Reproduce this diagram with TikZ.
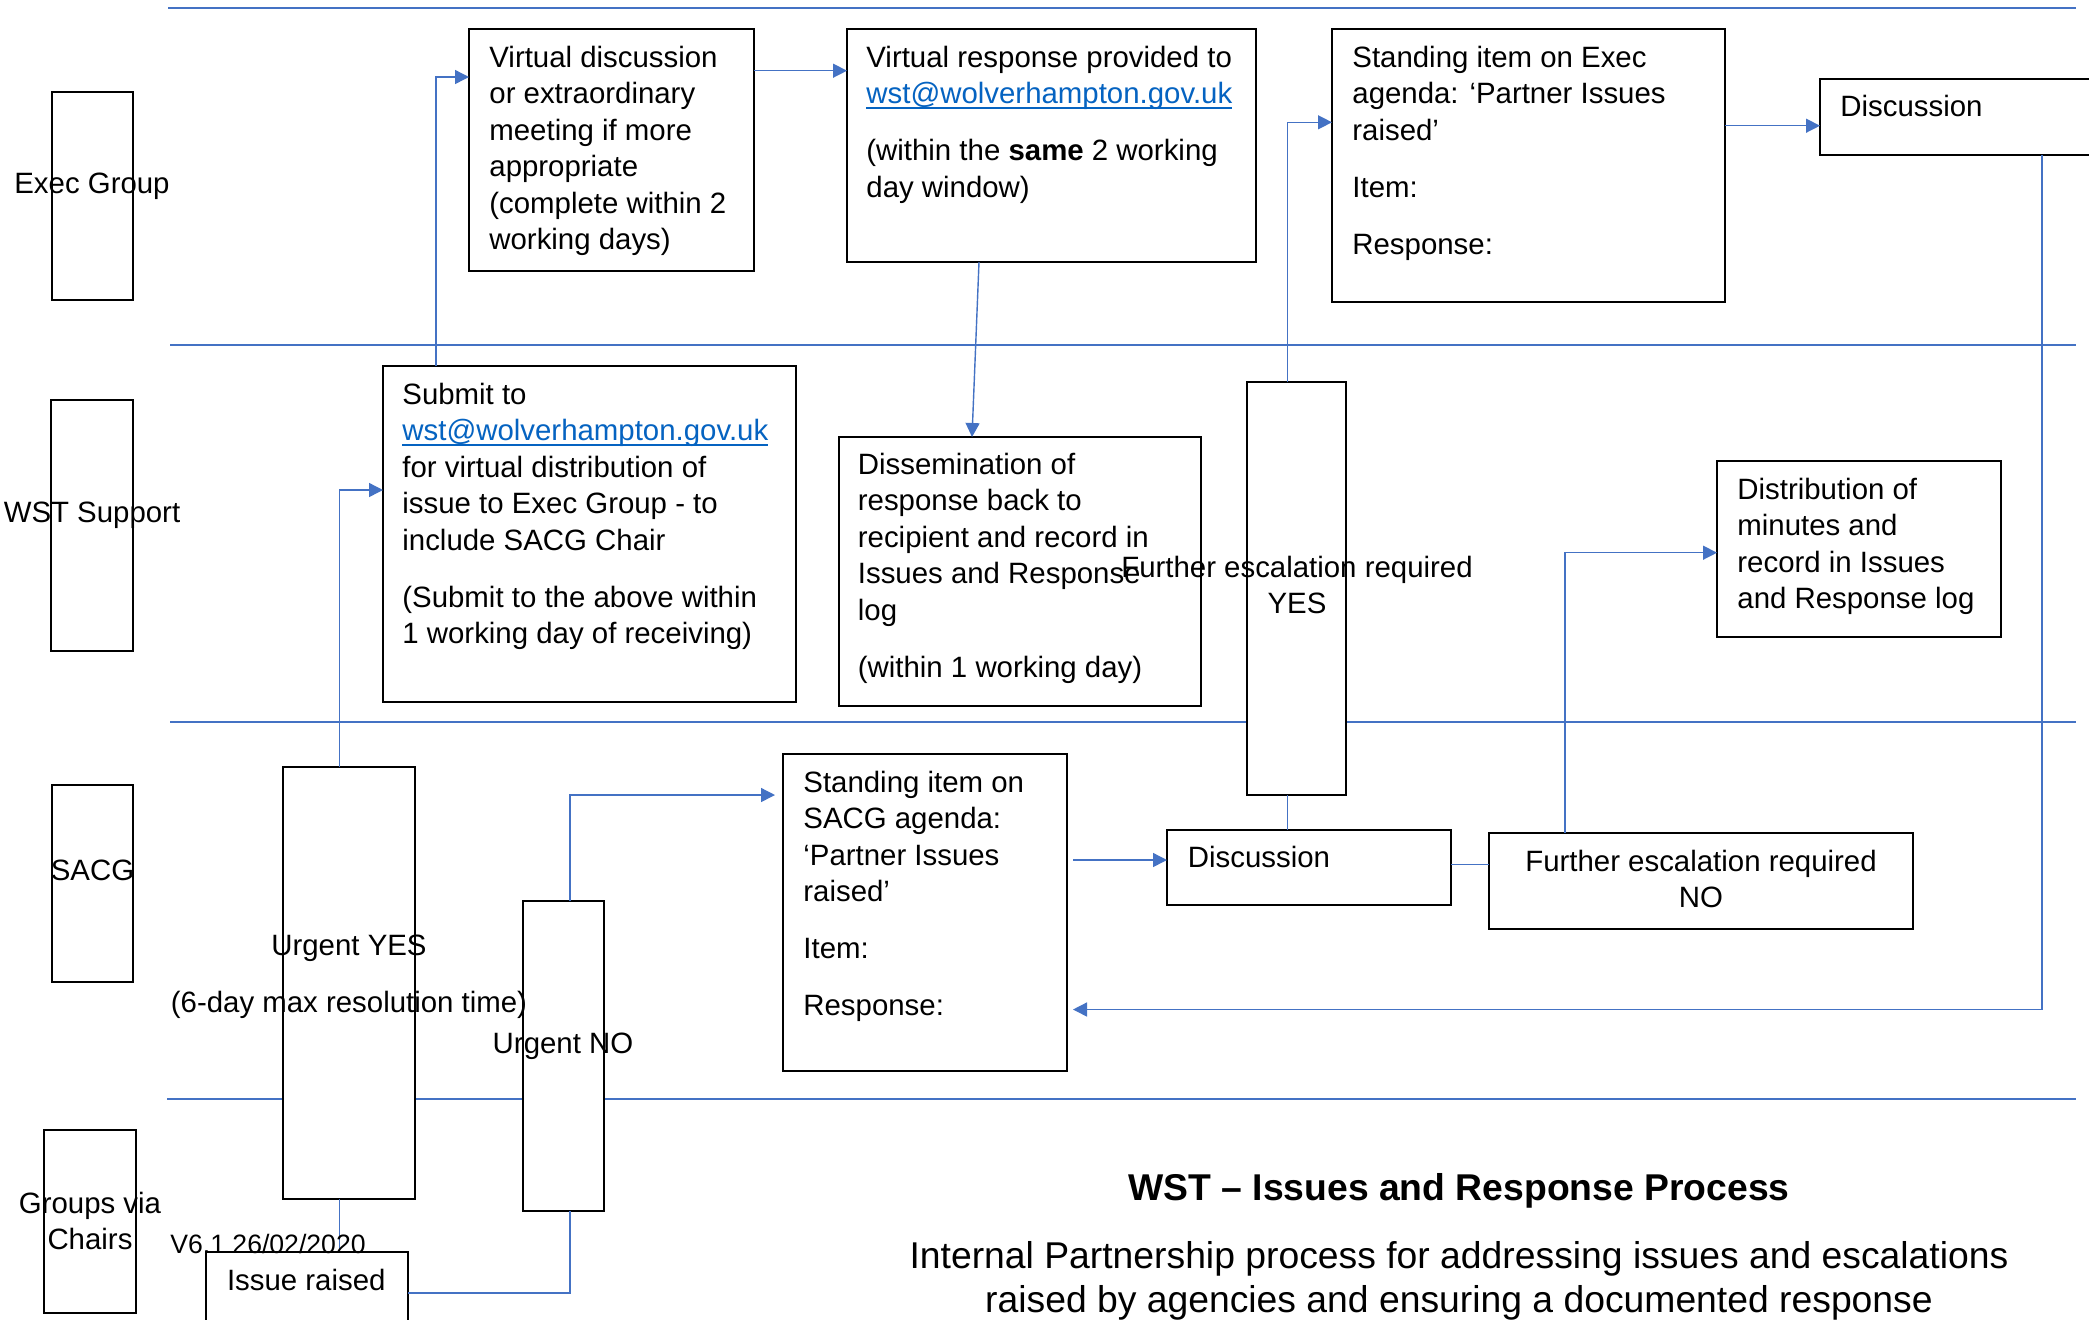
\documentclass[tikz,border=0pt]{standalone}
\usepackage{fontspec}
\setmainfont{Liberation Sans}
\usetikzlibrary{arrows.meta,fit}
\definecolor{lane}{HTML}{4472C4}
\definecolor{linkc}{HTML}{0563C1}
\newcommand\tsx{\rule{0pt}{11pt}}
\newcommand\tsy{\rule{0pt}{14pt}}
\newcommand\lnk[1]{{\color{linkc}\setbox0\hbox{#1}\rlap{\rule[-2.4pt]{\wd0}{1pt}}\box0}}
\tikzset{
  box/.style={draw=black, line width=0.8pt, fill=white, inner sep=0pt, outer sep=0pt},
  lanes/.style={draw=lane, line width=1pt},
  conn/.style={draw=lane, line width=0.7pt},
  arr/.style={conn, -{Triangle[length=7pt,width=7pt]}},
  txt/.style={inner sep=0pt, align=left, anchor=north west, font=\fontsize{14.7pt}{18.2pt}\selectfont},
  ctxt/.style={inner sep=0pt, align=center, anchor=north, font=\fontsize{14.7pt}{18.2pt}\selectfont},
  btxt/.style={inner sep=0pt, anchor=base, font=\fontsize{14.7pt}{18.2pt}\selectfont}
}
\begin{document}
\begin{tikzpicture}[x=0.5pt,y=-0.5pt]
\useasboundingbox (0,0) rectangle (2089,1319);
\fill[white] (0,0) rectangle (2089,1319);
\clip (0,0) rectangle (2089,1319);

% swim-lane separators
\draw[lanes] (168,8) -- (2076,8);
\draw[lanes] (170,345) -- (2076,345);
\draw[lanes] (170,722) -- (2076,722);
\draw[lanes] (167,1099) -- (2076,1099);

% lane label boxes
\node[box, fit={(52,92) (133,300)}] (LE) {};
\node[box, fit={(51,400) (133,651)}] (LW) {};
\node[box, fit={(52,785) (133,982)}] (LS) {};
\node[box, fit={(44,1130) (136,1313)}] (LG) {};

% process boxes
\node[box, fit={(469,29) (754,271)}] (A) {};
\node[box, fit={(847,29) (1256,262)}] (B) {};
\node[box, fit={(1332,29) (1725,302)}] (C) {};
\node[box, fit={(1820,79) (2110,155)}] (D) {};
\node[box, fit={(383,366) (796,702)}] (E) {};
\node[box, fit={(839,437) (1201,706)}] (F) {};
\node[box, fit={(1247,382) (1346,795)}] (G) {};
\node[box, fit={(1717,461) (2001,637)}] (H) {};
\node[box, fit={(283,767) (415,1199)}] (I) {};
\node[box, fit={(523,901) (604,1211)}] (J) {};
\node[box, fit={(783,754) (1067,1071)}] (K) {};
\node[box, fit={(1167,830) (1451,905)}] (L) {};
\node[box, fit={(1489,833) (1913,929)}] (M) {};
\node[box, fit={(206,1252) (408,1340)}] (N) {};

% guide coordinates for connector routing
\coordinate (vYes) at (339.5,0);
\coordinate (hE) at (0,490);
\coordinate (vNo) at (570,0);
\coordinate (hN) at (0,1293);
\coordinate (hK) at (0,795);
\coordinate (vE) at (436,0);
\coordinate (hA) at (0,77);
\coordinate (hAB) at (0,70.7);
\coordinate (vG) at (1287.5,0);
\coordinate (hC) at (0,122.3);
\coordinate (hCD) at (0,125.7);
\coordinate (vD) at (2042,0);
\coordinate (hRet) at (0,1009.5);
\coordinate (hKL) at (0,860);
\coordinate (hLM) at (0,864.4);
\coordinate (vM) at (1565,0);
\coordinate (hH) at (0,552.7);

% connectors
\draw[conn] (N.north -| vYes) -- (I.south -| vYes);
\draw[arr] (I.north -| vYes) |- (E.west |- hE);
\draw[conn] (N.east |- hN) -| (J.south -| vNo);
\draw[arr, shorten >=4pt] (J.north -| vNo) |- (K.west |- hK);
\draw[arr] (E.north -| vE) |- (A.west |- hA);
\draw[arr] (A.east |- hAB) -- (B.west |- hAB);
\draw[arr] ([xshift=-36.25pt]B.south) -- ([xshift=-24pt]F.north);
\draw[arr, shorten <=3pt] (K.east |- hKL) -- (L.west |- hKL);
\draw[conn] (L.north -| vG) -- (G.south -| vG);
\draw[arr] (G.north -| vG) |- (C.west |- hC);
\draw[arr] (C.east |- hCD) -- (D.west |- hCD);
\draw[arr, shorten >=3pt] (D.south -| vD) |- (K.east |- hRet);
\draw[conn] (L.east |- hLM) -- (M.west |- hLM);
\draw[arr] (M.north -| vM) |- (H.west |- hH);

% lane labels
\node[btxt] (LEt) at (92,193) {Exec Group};
\node[btxt] (LWt) at (92,522) {WST Support};
\node[btxt] (LSt) at (92.5,880) {SACG};
\node[ctxt] (LGt) at (90,1191) {\tsx Groups via\\Chairs};

% box texts
\node[txt] (At) at (489,45) {\tsx Virtual discussion\\or extraordinary\\meeting if more\\appropriate\\(complete within 2\\working days)};
\node[txt] (Bt) at (866,45) {\tsx Virtual response provided to\\\lnk{wst@wolverhampton.gov.uk}\\[10.3pt](within the \textbf{same} 2 working\\day window)};
\node[txt] (Ct) at (1352,45) {\tsx Standing item on Exec\\agenda: ‘Partner Issues\\raised’\\[10.3pt]Item:\\[10.3pt]Response:};
\node[txt] (Dt) at (1840,94) {\tsx Discussion};
\node[txt] (Et) at (402,382) {\tsx Submit to\\\lnk{wst@wolverhampton.gov.uk}\\for virtual distribution of\\issue to Exec Group - to\\include SACG Chair\\[10.3pt](Submit to the above within\\1 working day of receiving)};
\node[txt] (Ft) at (857.5,452) {\tsx Dissemination of\\response back to\\recipient and record in\\Issues and Response\\log\\[10.3pt](within 1 working day)};
\node[ctxt] (Gt) at (1297,555) {\tsx Further escalation required\\YES};
\node[txt] (Ht) at (1737,477) {\tsx Distribution of\\minutes and\\record in Issues\\and Response log};
\node[ctxt] (It) at (349,933) {\tsx Urgent YES\\[10.5pt](6-day max resolution time)};
\node[btxt] (Jt) at (563,1053) {Urgent NO};
\node[txt] (Kt) at (803,770) {\tsx Standing item on\\SACG agenda:\\‘Partner Issues\\raised’\\[10.3pt]Item:\\[10.3pt]Response:};
\node[txt] (Lt) at (1187.5,845) {\tsx Discussion};
\node[ctxt] (Mt) at (1701,849) {\tsx Further escalation required\\NO};
\node[txt] (Nt) at (226.6,1268.5) {\tsx Issue raised};

% version, title, subtitle
\node[inner sep=0pt, anchor=base west, font=\fontsize{13.3pt}{16pt}\selectfont] (ver) at (170,1253) {V6.1 26/02/2020};
\node[inner sep=0pt, anchor=base, font=\fontsize{18.65pt}{22pt}\selectfont\bfseries] (title) at (1459,1200) {WST – Issues and Response Process};
\node[inner sep=0pt, anchor=north, align=center, font=\fontsize{18.65pt}{22pt}\selectfont] (sub) at (1459,1240) {\tsy Internal Partnership process for addressing issues and escalations\\raised by agencies and ensuring a documented response};
\end{tikzpicture}
\end{document}
